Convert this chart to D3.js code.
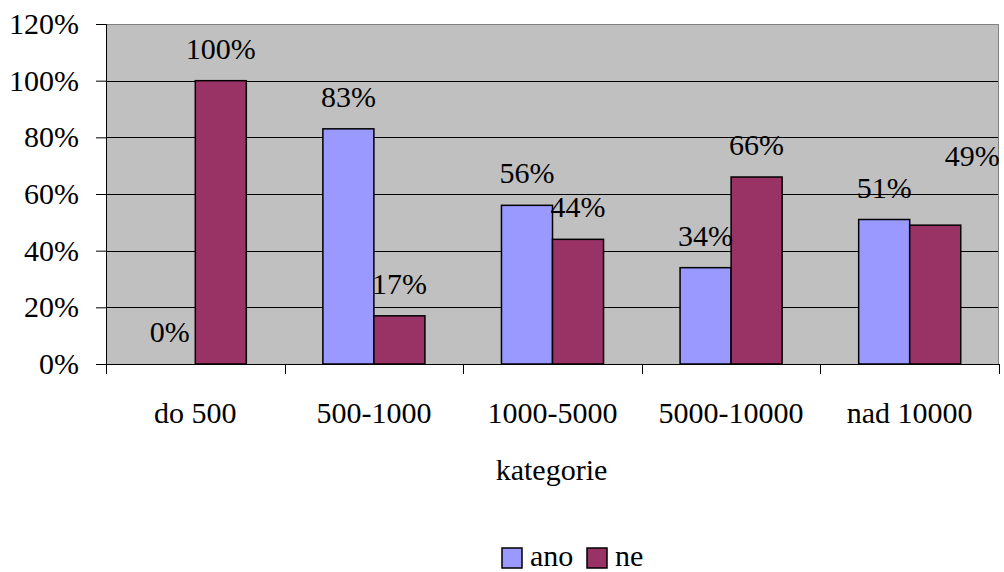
<!DOCTYPE html>
<html>
<head>
<meta charset="utf-8">
<script src="https://cdn.jsdelivr.net/npm/d3@7"></script>
<style>
  #chart text { font-family: "Liberation Serif", "Times New Roman", Tinos, serif !important; }
</style>
</head>
<body style="margin:0; background:#ffffff">
<svg id="chart" width="1004" height="572" style="display:block; font-family: 'Liberation Serif', serif"></svg>
<script>
// Share of answers by settlement size category
const categories = ["do 500", "500-1000", "1000-5000", "5000-10000", "nad 10000"];
const seriesNames = ["ano", "ne"];
const anoValues = [0, 83, 56, 34, 51];
const neValues = [100, 17, 44, 66, 49];
const yTicks = [0, 20, 40, 60, 80, 100, 120];
const colors = ["#9999ff", "#993366"];

const FS = 30;

// apply the serif face and size to a text selection
const serif = sel => sel
  .attr("font-family", "Liberation Serif")
  .style("font-family", () => "Liberation Serif")
  .attr("font-size", FS);

const svg = d3.select("#chart");
const margin = { left: 106, right: 5, top: 24, bottom: 208 };
const W = 1004, H = 572;
const plotW = W - margin.left - margin.right;
const plotH = H - margin.top - margin.bottom;

const g = svg.append("g").attr("transform", `translate(${margin.left},${margin.top})`);

const x0 = d3.scaleBand().domain(categories).range([0, plotW]);
// two bars fill 2 of 3.5 units of each category (gap width 150%)
const side = x0.bandwidth() * 0.75 / 3.5;
const x1 = d3.scaleBand().domain(seriesNames).range([side, x0.bandwidth() - side]);
const y = d3.scaleLinear().domain([0, 120]).range([plotH, 0]);

// plot background
g.append("rect").attr("x", 0).attr("y", 0).attr("width", plotW).attr("height", plotH).attr("fill", "#c0c0c0");

// gridlines
g.append("g").selectAll("line").data(yTicks.filter(t => t > 0 && t < 120)).join("line")
  .attr("x1", 0).attr("x2", plotW)
  .attr("y1", d => Math.round(y(d)) + 0.5).attr("y2", d => Math.round(y(d)) + 0.5)
  .attr("stroke", "#000").attr("stroke-width", 1);

// top and right frame
g.append("path")
  .attr("d", `M0,0.5H${plotW - 0.5}V${plotH}`)
  .attr("fill", "none").attr("stroke", "#808080").attr("stroke-width", 1);

// bars
const rows = categories.map((c, i) => ({ cat: c, vals: [anoValues[i], neValues[i]] }));
const groups = g.append("g").selectAll("g").data(rows).join("g")
  .attr("transform", d => `translate(${x0(d.cat)},0)`);

groups.selectAll("rect").data(d => d.vals.map((v, k) => ({ v, k, s: seriesNames[k] }))).join("rect")
  .attr("x", d => x1(d.s))
  .attr("width", x1.bandwidth())
  .attr("y", d => y(d.v))
  .attr("height", d => plotH - y(d.v))
  .attr("fill", d => colors[d.k])
  .attr("stroke", "#000").attr("stroke-width", 1.5)
  .attr("display", d => d.v === 0 ? "none" : null);

// value labels; the last "ne" label sits up and to the right of its bar
const moved = d => d.cat === "nad 10000" && d.k === 1;
groups.selectAll("text").data(d => d.vals.map((v, k) => ({ v, k, s: seriesNames[k], cat: d.cat }))).join("text")
  .attr("x", d => x1(d.s) + x1.bandwidth() / 2 + (moved(d) ? 37 : 0))
  .attr("y", d => y(d.v) - 22 + (moved(d) ? -37 : 0))
  .attr("text-anchor", "middle")
  .attr("fill", "#000")
  .call(serif)
  .text(d => d.v + "%");

// y axis
const yAxis = g.append("g").call(d3.axisLeft(y).tickValues(yTicks).tickFormat(d => d + "%").tickSize(10).tickPadding(17));
yAxis.attr("font-family", null);
yAxis.select(".domain").attr("stroke", "#000").attr("d", `M0.5,0V${plotH}`);
yAxis.selectAll(".tick line").attr("stroke", "#000");
yAxis.selectAll(".tick text").attr("fill", "#000").call(serif);

// x axis
const xAxisG = g.append("g").attr("transform", `translate(0,${plotH})`);
xAxisG.append("line").attr("x1", 0).attr("x2", plotW).attr("y1", 0.5).attr("y2", 0.5).attr("stroke", "#000");
const boundaries = categories.map(c => x0(c)).concat([plotW]);
xAxisG.selectAll("line.tk").data(boundaries).join("line").attr("class", "tk")
  .attr("x1", d => Math.round(d) + 0.5).attr("x2", d => Math.round(d) + 0.5)
  .attr("y1", 0).attr("y2", 10).attr("stroke", "#000");
xAxisG.selectAll("text.cat").data(categories).join("text").attr("class", "cat")
  .attr("x", d => x0(d) + x0.bandwidth() / 2)
  .attr("y", 59)
  .attr("text-anchor", "middle").attr("fill", "#000")
  .call(serif)
  .text(d => d);

// axis title
svg.append("text").attr("x", margin.left + plotW / 2 - 1).attr("y", 480)
  .attr("text-anchor", "middle").attr("fill", "#000")
  .call(serif)
  .text("kategorie");

// legend
const legend = svg.append("g").attr("transform", "translate(502,548)");
const lx = [0, 85];
seriesNames.forEach((s, k) => {
  legend.append("rect").attr("x", lx[k]).attr("y", 0).attr("width", 20).attr("height", 20)
    .attr("fill", colors[k]).attr("stroke", "#000").attr("stroke-width", 1.5);
  legend.append("text").attr("x", lx[k] + 28).attr("y", 18).attr("fill", "#000")
    .call(serif)
    .text(s);
});
</script>
</body>
</html>
